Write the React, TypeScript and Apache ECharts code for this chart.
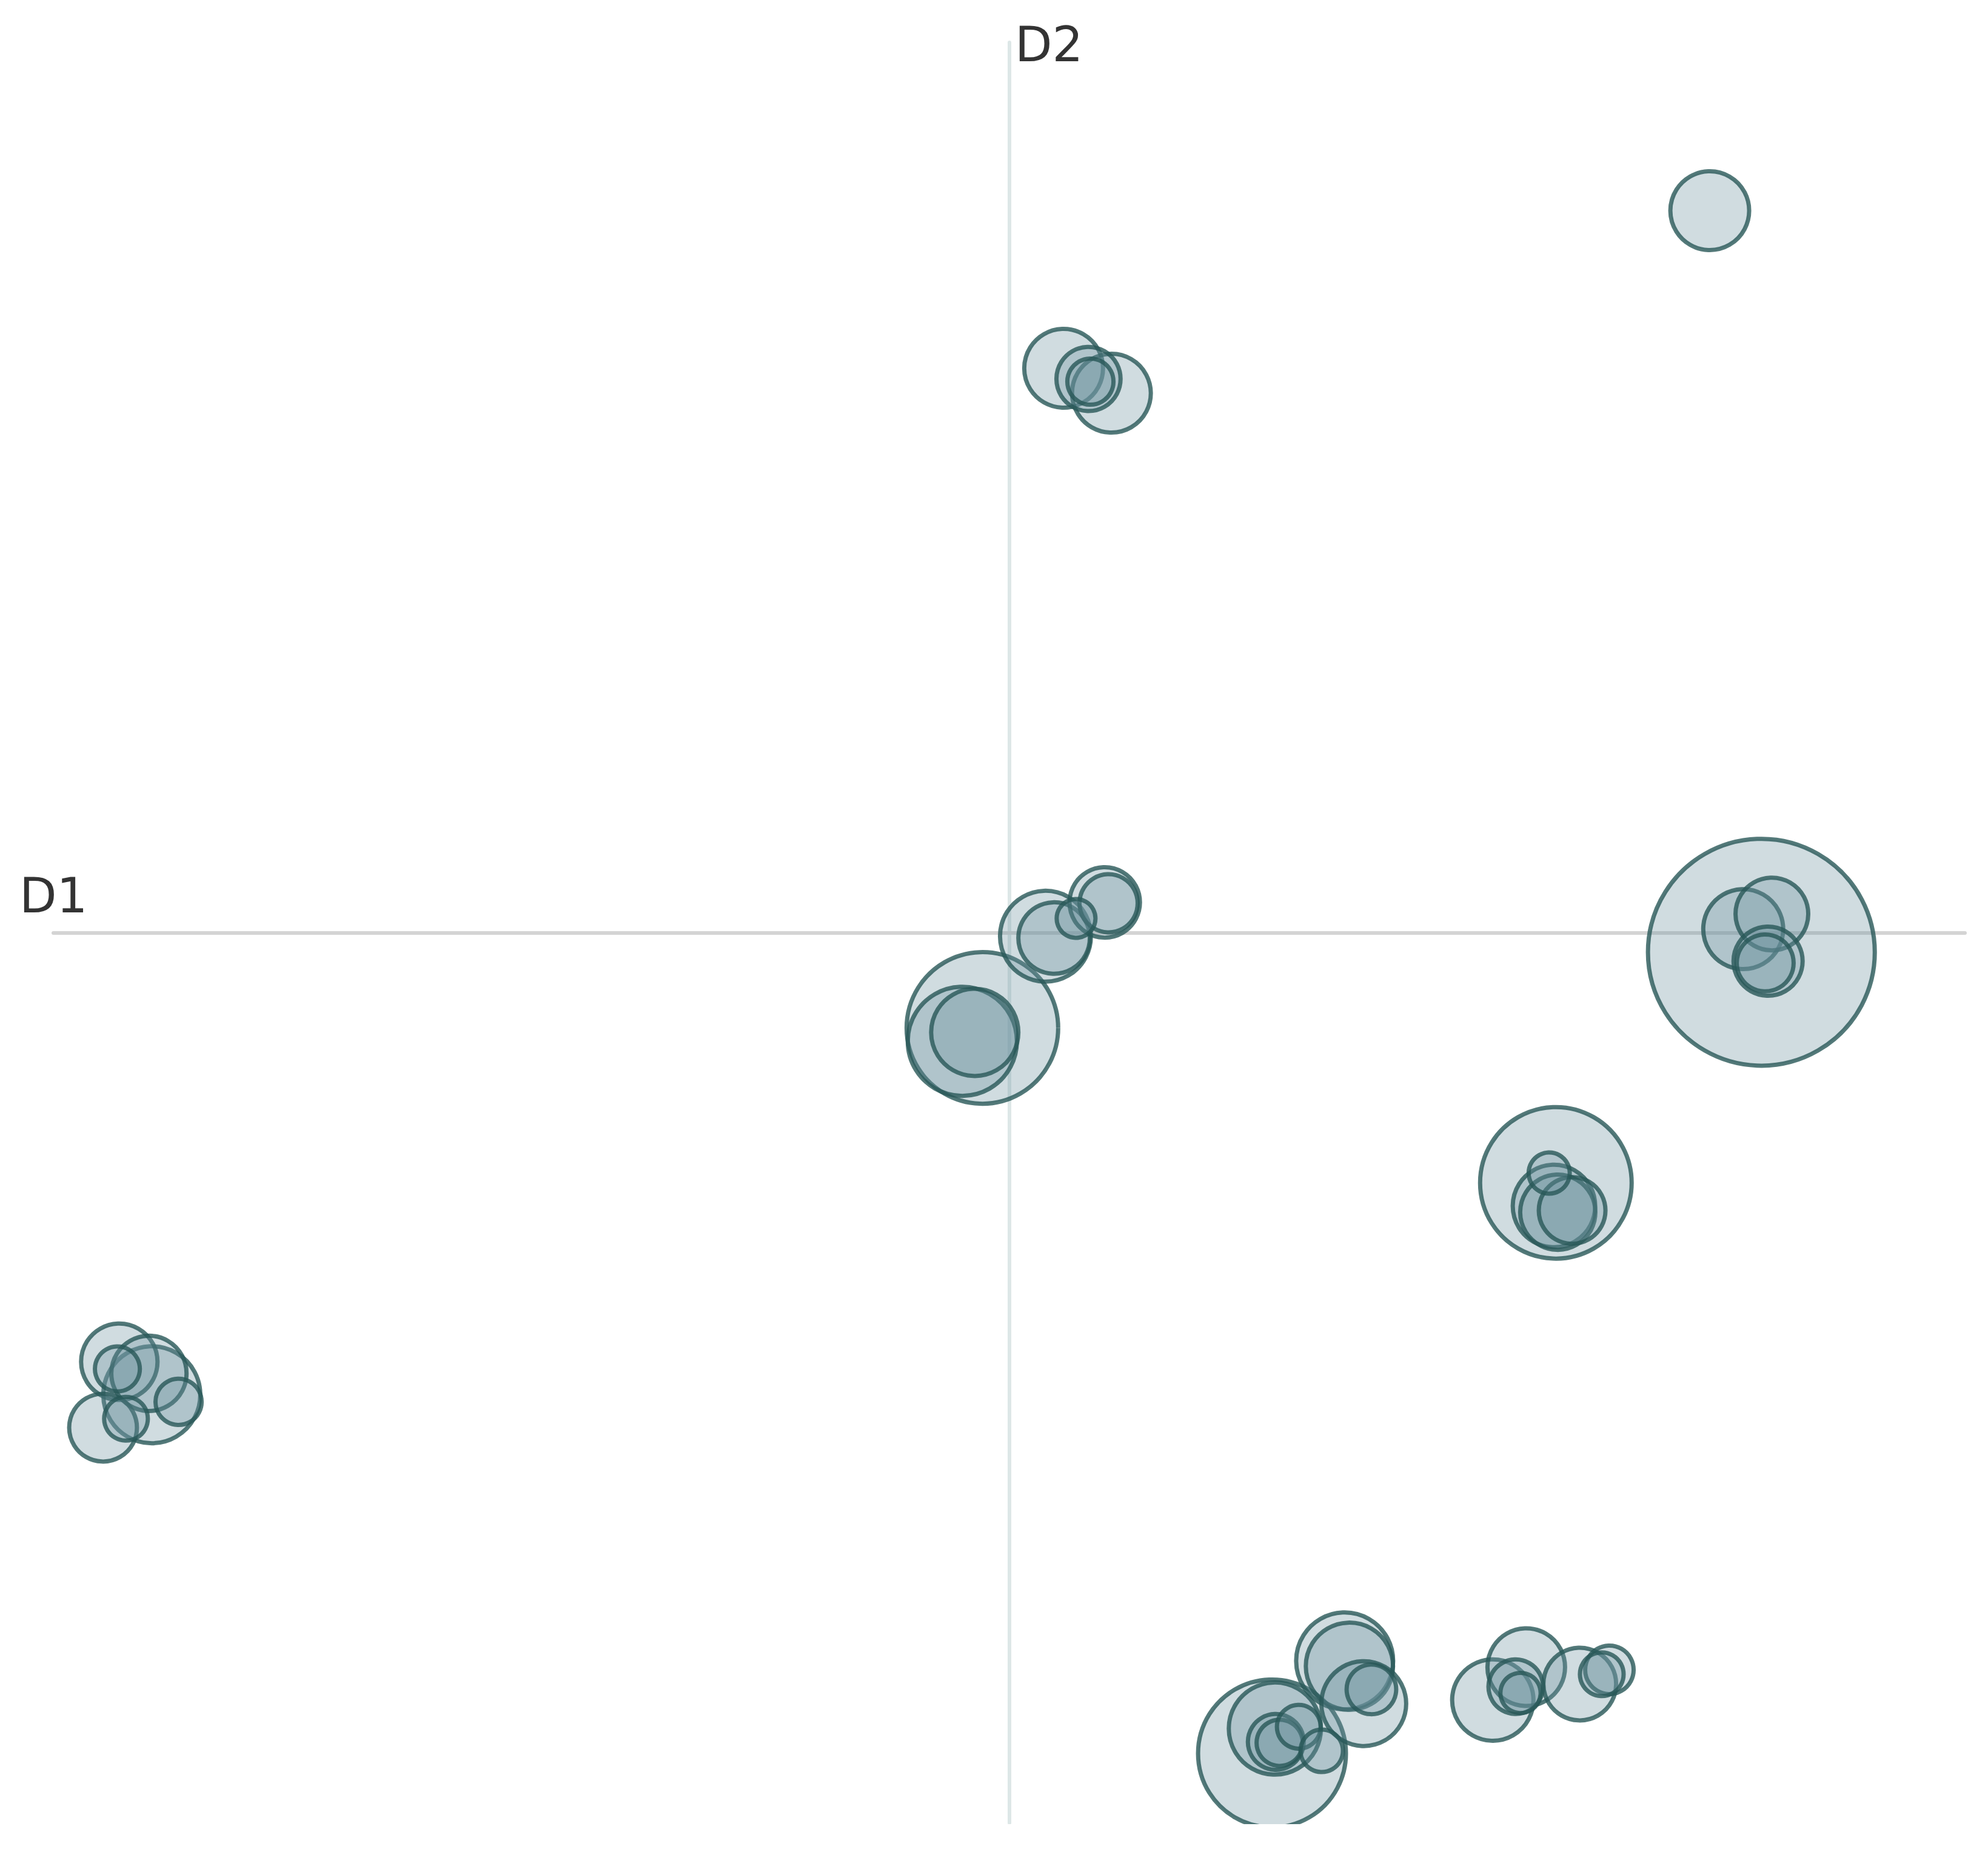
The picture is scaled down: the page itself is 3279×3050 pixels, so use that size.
import React, { useEffect, useRef } from "react";
import * as echarts from "echarts";

// Axis names
const axisNames = ["D1", "D2"];

// Coordinates on the first dimension (D1)
const d1 = [
  0.733,
  0.057, 0.107, 0.083, 0.085,
  -0.028, -0.049, -0.036, 0.038, 0.047, 0.100, 0.104, 0.070,
  0.787, 0.798, 0.768, 0.794, 0.791,
  0.572, 0.565, 0.589, 0.570, 0.574,
  -0.931, -0.933, -0.897, -0.869, -0.924, -0.948, -0.900,
  0.275, 0.278, 0.279, 0.283, 0.303, 0.327,
  0.351, 0.356, 0.371, 0.379,
  0.506, 0.541, 0.530, 0.535, 0.597, 0.620, 0.628,
];

// Coordinates on the second dimension (D2)
const d2 = [
  0.811,
  0.634, 0.606, 0.622, 0.619,
  -0.107, -0.122, -0.112, -0.004, -0.006, 0.034, 0.033, 0.016,
  -0.022, 0.021, 0.004, -0.032, -0.034,
  -0.281, -0.270, -0.312, -0.307, -0.314,
  -0.482, -0.490, -0.519, -0.527, -0.546, -0.556, -0.495,
  -0.922, -0.894, -0.909, -0.910, -0.892, -0.919,
  -0.818, -0.824, -0.866, -0.850,
  -0.862, -0.825, -0.847, -0.854, -0.844, -0.833, -0.828,
];

// Bubble weights
const weight = [
  169,
  169, 169, 112, 58,
  625, 324, 207, 225, 139, 135, 92, 41,
  1400, 144, 174, 130, 88,
  625, 46, 121, 185, 154,
  159, 55, 256, 58, 52, 125, 154,
  595, 231, 85, 58, 52, 49,
  256, 207, 196, 67,
  180, 164, 81, 44, 144, 52, 64,
];

export default function App() {
  const ref = useRef<HTMLDivElement>(null);

  useEffect(() => {
    if (!ref.current) return;
    const chart = echarts.init(ref.current, null, { renderer: "svg" });
    const points = d1
      .map((x, i) => [x, d2[i], weight[i]])
      .sort((a, b) => b[2] - a[2]);

    chart.setOption({
      animation: false,
      backgroundColor: "#ffffff",
      grid: { left: 88, right: 38, top: 70, bottom: 43 },
      xAxis: {
        type: "value",
        min: -1,
        max: 1,
        axisLine: { show: true, onZero: true, lineStyle: { color: "#d4d4d4", width: 6 } },
        axisTick: { show: false },
        axisLabel: { show: false },
        splitLine: { show: false },
      },
      yAxis: {
        type: "value",
        min: -1,
        max: 1,
        axisLine: { show: true, onZero: true, lineStyle: { color: "#dde7e7", width: 6 } },
        axisTick: { show: false },
        axisLabel: { show: false },
        splitLine: { show: false },
      },
      series: [
        {
          type: "scatter",
          data: points,
          symbol: "circle",
          symbolSize: (val: number[]) => Math.sqrt(val[2]) * 10,
          itemStyle: {
            color: "rgba(110,145,160,0.4)",
            borderColor: "#285858",
            borderWidth: 7,
          },
          emphasis: { disabled: true },
        },
      ],
      graphic: [
        {
          type: "rect",
          z: 100,
          shape: { x: 0, y: 3009, width: 3279, height: 41 },
          style: { fill: "#ffffff" },
        },
        {
          type: "text",
          z: 101,
          x: 32,
          y: 1477,
          style: {
            text: axisNames[0],
            fontFamily: "DejaVu Sans",
            fontSize: 80,
            fill: "#333333",
            verticalAlign: "middle",
          },
        },
        {
          type: "text",
          z: 101,
          x: 1674,
          y: 73,
          style: {
            text: axisNames[1],
            fontFamily: "DejaVu Sans",
            fontSize: 80,
            fill: "#333333",
            verticalAlign: "middle",
          },
        },
      ],
    });
    return () => chart.dispose();
  }, []);

  return (
    <div
      ref={ref}
      style={{ position: "absolute", left: 0, top: 0, width: 3279, height: 3050, background: "#fff" }}
    />
  );
}
